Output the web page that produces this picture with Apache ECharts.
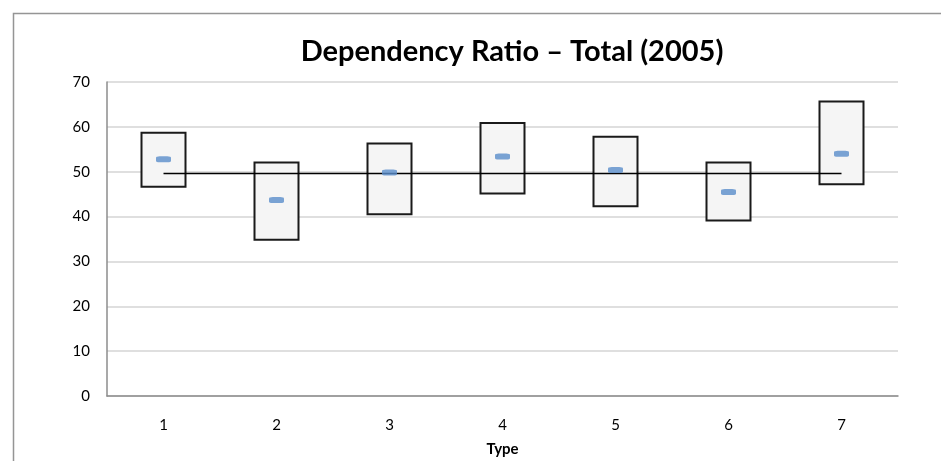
<!DOCTYPE html>
<html>
<head>
<meta charset="utf-8">
<script src="https://cdn.jsdelivr.net/npm/echarts@6/dist/echarts.min.js"></script>
<style>
html,body{margin:0;padding:0;background:#fff;overflow:hidden;}
#c{width:941px;height:461px;}
</style>
</head>
<body>
<div id="c"></div>
<script>
var categories = ['1','2','3','4','5','6','7'];
var lowValues  = [46.4, 34.6, 40.3, 44.9, 42.1, 38.9, 47.0];
var highValues = [58.9, 52.3, 56.5, 61.1, 58.0, 52.3, 65.9];
var midValues  = [52.8, 43.7, 49.8, 53.4, 50.4, 45.5, 54.0];
var totalValues = [49.6, 49.6, 49.6, 49.6, 49.6, 49.6, 49.6];
var yTicks = [0, 10, 20, 30, 40, 50, 60, 70];

var rangeValues = highValues.map(function(h, i){ return +(h - lowValues[i]).toFixed(2); });
var FONT = 'Lato, "Open Sans", sans-serif';

var chart = echarts.init(document.getElementById('c'), null, {renderer:'canvas'});
chart.setOption({
  animation: false,
  backgroundColor: '#fff',
  title: {
    text: 'Dependency Ratio – Total (2005)',
    left: 507, top: 32, textAlign: 'center',
    textStyle: { fontFamily: FONT, fontWeight: 'bold', fontSize: 29, color: '#000' }
  },
  graphic: [{
    type: 'polyline',
    shape: { points: [[13.5, 470], [13.5, 13.5], [950, 13.5]] },
    style: { stroke: '#959595', lineWidth: 1.5, fill: null },
    silent: true
  }],
  grid: { left: 107, right: 43, top: 82, bottom: 65, containLabel: false, outerBoundsMode: 'none' },
  xAxis: {
    type: 'category',
    data: categories,
    name: 'Type',
    nameLocation: 'middle',
    nameGap: 46,
    nameTextStyle: { fontFamily: FONT, fontWeight: 'bold', fontSize: 15, color: '#000' },
    boundaryGap: true,
    axisLine: { lineStyle: { color: '#8c8c8c', width: 1.5 } },
    axisTick: { show: false },
    axisLabel: { fontFamily: FONT, fontSize: 15, color: '#000', margin: 22 },
    splitLine: { show: false }
  },
  yAxis: {
    type: 'value',
    min: yTicks[0], max: yTicks[yTicks.length - 1], interval: 10,
    axisLine: { show: true, lineStyle: { color: '#8c8c8c', width: 1.5 } },
    axisTick: { show: false },
    axisLabel: { fontFamily: FONT, fontSize: 15, color: '#000', margin: 17 },
    splitLine: { show: true, lineStyle: { color: '#d4d4d4', width: 1.5 } }
  },
  series: [
    {
      type: 'bar', stack: 'r', data: lowValues, barWidth: 46,
      itemStyle: { color: 'transparent' }, silent: true, z: 2
    },
    {
      type: 'bar', stack: 'r', data: rangeValues, barWidth: 46,
      itemStyle: { color: '#f5f5f5', borderColor: '#1a1a1a', borderWidth: 2 }, z: 2
    },
    {
      type: 'line', data: totalValues, symbol: 'none',
      lineStyle: { color: '#000', width: 1.6 }, z: 3
    },
    {
      type: 'scatter', data: midValues, symbol: 'roundRect', symbolSize: [15, 6],
      itemStyle: { color: '#5a8dca' }, z: 4
    }
  ]
});
</script>
</body>
</html>
